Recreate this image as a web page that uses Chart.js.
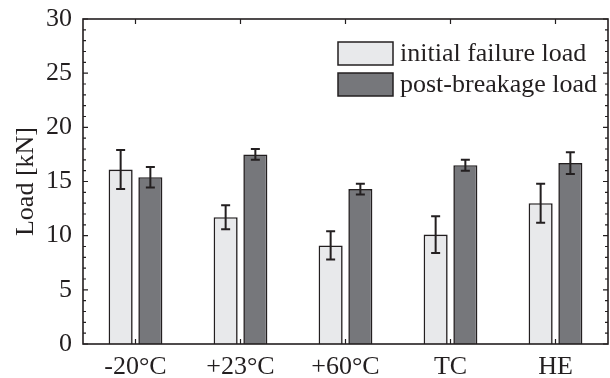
<!DOCTYPE html>
<html>
<head>
<meta charset="utf-8">
<script src="https://cdn.jsdelivr.net/npm/chart.js@4.4.0/dist/chart.umd.min.js"></script>
<style>
  html, body { margin: 0; padding: 0; background: #fff; }
  #wrap { width: 610px; height: 378px; }
</style>
</head>
<body>
<div id="wrap"><canvas id="myChart"></canvas></div>
<script>
// data
const categories = ['-20°C', '+23°C', '+60°C', 'TC', 'HE'];
const initialLoad = [16.1, 11.7, 9.1, 10.1, 13.0];
const initialErr = [1.8, 1.1, 1.3, 1.7, 1.8];
const postLoad = [15.4, 17.5, 14.3, 16.5, 16.7];
const postErr = [0.95, 0.5, 0.5, 0.5, 1.0];
const seriesNames = ['initial failure load', 'post-breakage load'];

const FONT = '"Liberation Serif", "Times New Roman", serif';
const INK = '#231f20';

// error bars on top of each bar
const errorBars = {
  id: 'errorBars',
  afterDatasetsDraw(chart) {
    const ctx = chart.ctx;
    const y = chart.scales.y;
    const errs = [initialErr, postErr];
    ctx.save();
    ctx.strokeStyle = INK;
    ctx.lineWidth = 2;
    chart.data.datasets.forEach((ds, i) => {
      const meta = chart.getDatasetMeta(i);
      meta.data.forEach((bar, j) => {
        const v = ds.data[j], e = errs[i][j];
        const top = y.getPixelForValue(v + e);
        const bot = y.getPixelForValue(v - e);
        ctx.beginPath();
        ctx.moveTo(bar.x, top); ctx.lineTo(bar.x, bot);
        ctx.moveTo(bar.x - 4.5, top); ctx.lineTo(bar.x + 4.5, top);
        ctx.moveTo(bar.x - 4.5, bot); ctx.lineTo(bar.x + 4.5, bot);
        ctx.stroke();
      });
    });
    ctx.restore();
  }
};

// box frame with inward ticks, like the original plot
const frame = {
  id: 'frame',
  afterDraw(chart) {
    const ctx = chart.ctx;
    const a = chart.chartArea;
    const y = chart.scales.y, x = chart.scales.x;
    ctx.save();
    ctx.strokeStyle = INK;
    ctx.lineWidth = 1.6;
    ctx.strokeRect(a.left, a.top, a.right - a.left, a.bottom - a.top);
    ctx.lineWidth = 1.2;
    ctx.beginPath();
    for (let v = y.min; v <= y.max; v += 1) {
      const py = y.getPixelForValue(v);
      const len = v % 5 === 0 ? 5 : 3;
      ctx.moveTo(a.left, py); ctx.lineTo(a.left + len, py);
      ctx.moveTo(a.right, py); ctx.lineTo(a.right - len, py);
    }
    categories.forEach((c, i) => {
      const px = x.getPixelForValue(i);
      ctx.moveTo(px, a.top); ctx.lineTo(px, a.top + 5);
      ctx.moveTo(px, a.bottom); ctx.lineTo(px, a.bottom - 5);
    });
    ctx.stroke();
    ctx.restore();
  }
};

// legend inside the plot, top right
const innerLegend = {
  id: 'innerLegend',
  afterDraw(chart) {
    const ctx = chart.ctx;
    const a = chart.chartArea;
    const bx = a.right - 270, by = a.top + 23;
    ctx.save();
    ctx.font = '26px ' + FONT;
    ctx.textBaseline = 'middle';
    chart.data.datasets.forEach((ds, i) => {
      const top = by + i * 31;
      ctx.fillStyle = ds.backgroundColor;
      ctx.fillRect(bx, top, 55, 23);
      ctx.strokeStyle = INK;
      ctx.lineWidth = 1.5;
      ctx.strokeRect(bx, top, 55, 23);
      ctx.fillStyle = INK;
      ctx.fillText(seriesNames[i], bx + 62, top + 12);
    });
    ctx.restore();
  }
};

const ctx = document.getElementById('myChart').getContext('2d');
const myChart = new Chart(ctx, {
  type: 'bar',
  data: {
    labels: categories,
    datasets: [{
      label: seriesNames[0],
      data: initialLoad,
      backgroundColor: '#e8e9eb',
      borderColor: INK,
      borderWidth: 1.6,
      categoryPercentage: 0.566,
      barPercentage: 0.81
    }, {
      label: seriesNames[1],
      data: postLoad,
      backgroundColor: '#76777b',
      borderColor: INK,
      borderWidth: 1.6,
      categoryPercentage: 0.566,
      barPercentage: 0.81
    }]
  },
  options: {
    responsive: true,
    maintainAspectRatio: false,
    animation: false,
    layout: { padding: { top: 19, right: 2, left: 0, bottom: 0 } },
    plugins: {
      legend: { display: false },
      tooltip: { enabled: false }
    },
    scales: {
      x: {
        grid: { display: false },
        border: { display: false },
        ticks: { color: INK, font: { family: FONT, size: 26 }, padding: 0, maxRotation: 0 },
        afterFit(scale) { scale.height = 34; }
      },
      y: {
        min: 0,
        max: 30,
        grid: { display: false },
        border: { display: false },
        ticks: { stepSize: 5, color: INK, font: { family: FONT, size: 26 }, padding: 3 },
        title: { display: true, text: 'Load [kN]', color: INK, font: { family: FONT, size: 26 }, padding: { top: 11, bottom: 0 } },
        afterFit(scale) { scale.width = 83; }
      }
    }
  },
  plugins: [errorBars, frame, innerLegend]
});
</script>
</body>
</html>
